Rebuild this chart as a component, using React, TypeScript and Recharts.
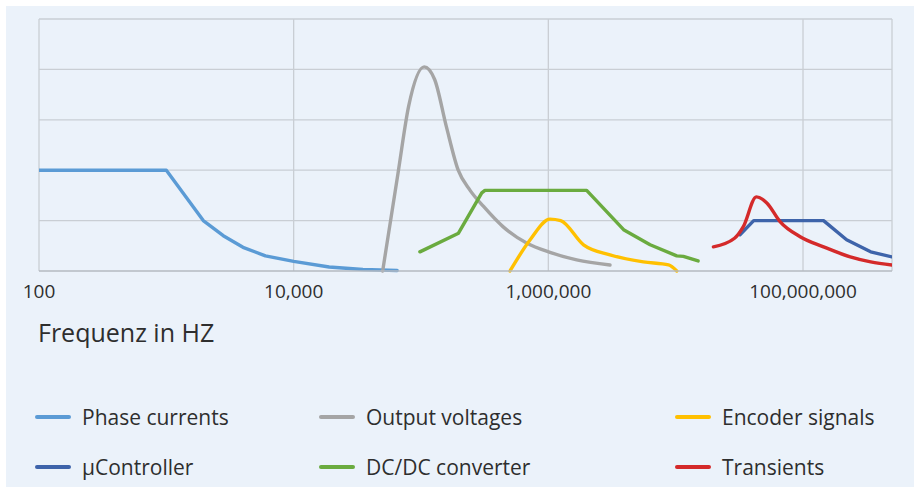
import React from "react";
import { LineChart, Line, XAxis, YAxis, CartesianGrid, ReferenceLine } from "recharts";

const xTicks = [100, 10000, 1000000, 100000000];
const yTicks = [0, 1, 2, 3, 4, 5];

const phaseFreq = [100, 1000, 1950, 2800, 4000, 6000, 10000, 19000, 35000, 65000];
const phaseVal = [2, 2, 1.0, 0.7, 0.47, 0.3, 0.19, 0.08, 0.03, 0.01];

const outputFreq = [50000, 66000, 80000, 106000, 128000, 158000, 196000, 243000, 310000, 440000, 680000, 1030000, 1670000, 3050000];
const outputVal = [0, 1.94, 3.27, 4.05, 3.8, 2.87, 2.0, 1.6, 1.28, 0.88, 0.55, 0.37, 0.22, 0.12];

const encoderFreq = [500000, 720000, 1030000, 1250000, 1890000, 3050000, 5580000, 8800000, 10200000];
const encoderVal = [0, 0.62, 1.03, 1.0, 0.52, 0.32, 0.18, 0.12, 0];

const ctrlFreq = [32000000, 41000000, 145000000, 220000000, 340000000, 500000000];
const ctrlVal = [0.72, 1.0, 1.0, 0.62, 0.38, 0.28];

const dcdcFreq = [98000, 197000, 300000, 318000, 2000000, 3900000, 6300000, 10200000, 11500000, 15000000];
const dcdcVal = [0.38, 0.75, 1.55, 1.6, 1.6, 0.82, 0.52, 0.3, 0.29, 0.2];

const transFreq = [19800000, 29000000, 34000000, 43000000, 52000000, 66000000, 95000000, 145000000, 235000000, 340000000, 500000000];
const transVal = [0.48, 0.65, 0.88, 1.47, 1.35, 0.98, 0.68, 0.48, 0.28, 0.18, 0.12];

const toData = (fs: number[], vs: number[]) => fs.map((f, i) => ({ f, v: vs[i] }));

const series = [
  { name: "Phase currents", color: "#5B9BD5", data: toData(phaseFreq, phaseVal), type: "linear" },
  { name: "Output voltages", color: "#A5A5A5", data: toData(outputFreq, outputVal), type: "monotone" },
  { name: "Encoder signals", color: "#FFC000", data: toData(encoderFreq, encoderVal), type: "monotone" },
  { name: "µController", color: "#3E64AA", data: toData(ctrlFreq, ctrlVal), type: "linear" },
  { name: "DC/DC converter", color: "#6AAB3F", data: toData(dcdcFreq, dcdcVal), type: "linear" },
  { name: "Transients", color: "#D42A2A", data: toData(transFreq, transVal), type: "monotone" },
];

const drawOrder = [0, 1, 4, 2, 3, 5];

const fmt = (v: number) => v.toLocaleString("en-US");

const legendCols = [35, 319, 675];
const legendRows = [417, 467];

export default function App() {
  const font = "'Open Sans', sans-serif";
  return (
    <div style={{ position: "absolute", left: 0, top: 0, width: 914, height: 498, background: "#ffffff", overflow: "hidden", fontFamily: font }}>
      <div style={{ position: "absolute", left: 6, top: 6, width: 908, height: 481, background: "#EBF2FA" }} />
      <div style={{ position: "absolute", left: 0, top: 0 }}>
        <LineChart width={914} height={310} margin={{ top: 19, right: 22, left: 39, bottom: 0 }}>
          <CartesianGrid stroke="#C9CED4" strokeWidth={1.3} horizontal={false} />
          <XAxis
            dataKey="f"
            type="number"
            scale="log"
            domain={[100, 500000000]}
            allowDataOverflow
            ticks={xTicks}
            tickFormatter={fmt}
            tickLine={false}
            axisLine={{ stroke: "#B5BAC0", strokeWidth: 1.5 }}
            tick={{ fill: "#2E2E2E", fontSize: 19, fontFamily: font }}
            tickMargin={8}
            height={39}
          />
          <YAxis type="number" domain={[0, 5]} ticks={yTicks} width={0} tick={false} axisLine={false} tickLine={false} />
          {yTicks.filter((t) => t > 0).map((t) => (
            <ReferenceLine key={t} y={t} stroke="#C9CED4" strokeWidth={1.3} />
          ))}
          {drawOrder.map((i) => {
            const s = series[i];
            return (
              <Line
                key={s.name}
                data={s.data}
                dataKey="v"
                name={s.name}
                type={s.type as any}
                stroke={s.color}
                strokeWidth={3.4}
                dot={false}
                activeDot={false}
                isAnimationActive={false}
                strokeLinejoin="round"
                strokeLinecap="round"
              />
            );
          })}
        </LineChart>
      </div>
      <div style={{ position: "absolute", left: 38, top: 315, fontSize: 25, color: "#2E2E2E", whiteSpace: "nowrap" }}>Frequenz in HZ</div>
      {series.map((s, i) => {
        const col = i % 3;
        const row = Math.floor(i / 3);
        const x = legendCols[col];
        const y = legendRows[row];
        return (
          <div key={s.name} style={{ position: "absolute", left: x, top: y - 14, height: 28, display: "flex", alignItems: "center", whiteSpace: "nowrap" }}>
            <div style={{ width: 36, height: 4, borderRadius: 2, background: s.color, marginRight: 11 }} />
            <span style={{ fontSize: 21, color: "#2E2E2E" }}>{s.name}</span>
          </div>
        );
      })}
    </div>
  );
}
